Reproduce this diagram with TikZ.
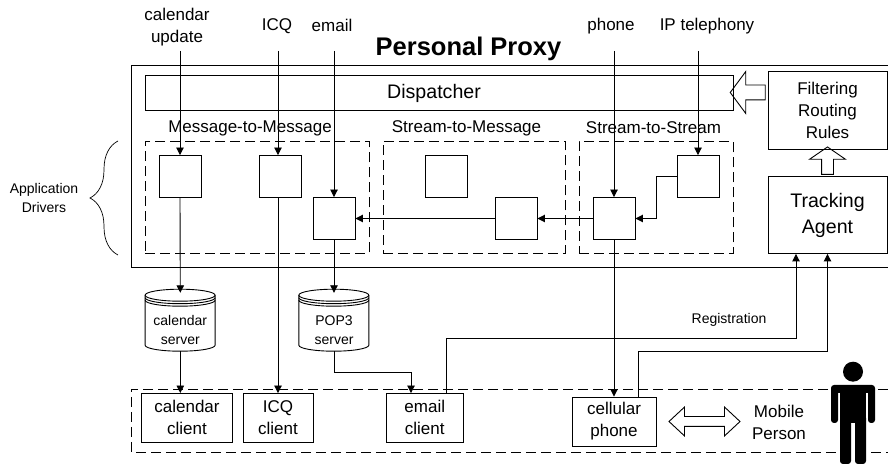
\documentclass[tikz,border=0pt]{standalone}
\usepackage{fontspec}
\setmainfont{Liberation Sans}
\usetikzlibrary{arrows.meta, shapes.arrows, decorations.pathreplacing}

\tikzset{
  drvbox/.style={draw, line width=.9pt, minimum width=42pt, minimum height=42pt, inner sep=0pt},
  groupbox/.style={draw, line width=.9pt, dash pattern=on 10pt off 5pt, inner sep=0pt},
  plainbox/.style={draw, line width=.9pt, inner sep=0pt, align=center},
  midtext/.style={font=\fontsize{17}{22}\selectfont, align=center},
  bigtext/.style={font=\fontsize{19.6}{26}\selectfont, align=center},
  smalltext/.style={font=\fontsize{14}{19}\selectfont, align=center},
  conn/.style={line width=.9pt, -{Triangle[width=7.5pt,length=7.5pt]}},
  fatarrow/.style={draw, line width=.9pt},
  barrel/.style={smalltext, minimum width=70pt, minimum height=42pt, inner sep=0pt},
  bodypart/.style={fill=black, rounded corners=3pt}
}

\newcommand{\drum}[1]{
  \draw [line width=.9pt] (#1.south west) ++(0,6) arc [start angle=180, end angle=360, x radius=35pt, y radius=6pt]
    -- ++(0,50) arc [start angle=0, end angle=180, x radius=35pt, y radius=6pt] -- cycle;
  \foreach \dy in {50,47.5,45}
    \draw [line width=.9pt] (#1.south west) ++(0,6+\dy) arc [start angle=180, end angle=360, x radius=35pt, y radius=6pt];
}

\begin{document}
\begin{tikzpicture}[x=1pt, y=1pt]
    \useasboundingbox (0,0) rectangle (888,465);

    \draw [line width=.9pt] (888,400) -- (131,400) -- (131,198) -- (888,198);
    \draw [line width=.9pt, dash pattern=on 10pt off 5pt] (888,76) -- (131,76) -- (131,13) -- (888,13);

    \node (title) [font=\fontsize{25.5}{30}\selectfont\bfseries] at (468.5,416.5) {Personal Proxy};
    \node (calin) [midtext] at (177,438) {calendar\\update};
    \node (icqin) [midtext] at (277,439) {ICQ};
    \node (mailin) [midtext] at (332,439.5) {email};
    \node (phonein) [midtext] at (611,439) {phone};
    \node (ipin) [midtext] at (707,439) {IP telephony};
    \coordinate (calstart) at (180,414);
    \coordinate (icqstart) at (278,414);
    \coordinate (mailstart) at (334,414);
    \coordinate (phonestart) at (614,414);
    \coordinate (ipstart) at (698,414);

    \node (dispatcher) [plainbox, minimum width=588pt, minimum height=34.5pt] at (439,372.25) {};
    \node (disptext) [bigtext] at (434,372) {Dispatcher};

    \node (mmgroup) [groupbox, minimum width=224pt, minimum height=112pt] at (257,267.5) {};
    \node (smgroup) [groupbox, minimum width=182pt, minimum height=112pt] at (474,267.5) {};
    \node (ssgroup) [groupbox, minimum width=154pt, minimum height=112pt] at (656,267.5) {};
    \node (mmtext) [midtext] at (250,337) {Message-to-Message};
    \node (smtext) [midtext] at (466.5,337) {Stream-to-Message};
    \node (sstext) [midtext] at (653.5,337) {Stream-to-Stream};

    \node (drvcal) [drvbox] at (180,288.5) {};
    \node (drvicq) [drvbox] at (280.5,288.5) {};
    \node (drvmail) [drvbox] at (334,246.5) {};
    \node (drvstream) [drvbox] at (446,288.5) {};
    \node (drvconv) [drvbox] at (516,246.5) {};
    \node (drvphone) [drvbox] at (614,246.5) {};
    \node (drvip) [drvbox] at (698,288.5) {};

    \node (filter) [plainbox, midtext, minimum width=119pt, minimum height=77.5pt] at (827.5,354.75) {Filtering\\Routing\\Rules};
    \node (tracking) [plainbox, bigtext, minimum width=119pt, minimum height=77pt] at (827.5,250) {Tracking\\Agent};

    \node (toleft) [fatarrow, single arrow, shape border rotate=180, inner sep=7pt, minimum height=35pt,
      single arrow head extend=13.5pt, single arrow tip angle=107] at (750.5,372.5) {};
    \node (toup) [fatarrow, single arrow, shape border rotate=90, inner sep=5.5pt, minimum height=27.5pt,
      single arrow head extend=12pt, single arrow tip angle=111] at (827.5,302.25) {};

    \node (calserver) [barrel] at (180.3,135) {calendar\\server};
    \node (popserver) [barrel] at (334,135) {POP3\\server};
    \drum{calserver}
    \drum{popserver}

    \node (calclient) [plainbox, midtext, minimum width=91pt, minimum height=48.5pt] at (187,47.25) {calendar\\client};
    \node (icqclient) [plainbox, midtext, minimum width=70pt, minimum height=48.5pt] at (278,47.25) {ICQ\\client};
    \node (mailclient) [plainbox, midtext, minimum width=76.5pt, minimum height=48.5pt] at (424.75,47.25) {email\\client};
    \node (cellphone) [plainbox, midtext, minimum width=84pt, minimum height=49pt] at (614,43.5) {cellular\\phone};
    \node (both) [fatarrow, double arrow, inner sep=4.5pt, minimum height=71pt,
      double arrow head extend=9.5pt, double arrow tip angle=86] at (704.5,43.5) {};
    \node (mobile) [midtext] at (779,43) {Mobile\\Person};

    \node (regtext) [smalltext] at (729,145) {Registration};
    \node (drivers) [smalltext] at (44,267) {Application\\Drivers};
    \draw [line width=.7pt, decorate, decoration={brace, amplitude=28pt}] (118,210) -- (118,324);

    \path [conn]
      (calstart) edge (drvcal.north)
      (icqstart) edge ([xshift=-2.5pt]drvicq.north)
      (mailstart) edge (drvmail.north)
      (phonestart) edge (drvphone.north)
      (ipstart) edge (drvip.north)
      (drvcal.south) edge ([yshift=16pt]calserver.north)
      (drvmail.south) edge ([yshift=16pt]popserver.north)
      ([xshift=-2.5pt]drvicq.south) edge (icqclient.north)
      (calserver.south) edge ([xshift=-6.7pt]calclient.north)
      (drvphone.south) edge (cellphone.north)
      (drvconv.west) edge (drvmail.east)
      (drvphone.west) edge (drvconv.east);

    \draw [conn] (drvip.west) -| ([xshift=42pt]drvphone.center) -- (drvphone.east);
    \draw [conn] (popserver.south) -- ++(0,-21.5) -| ([xshift=-13.75pt]mailclient.north);
    \draw [conn] ([xshift=21.25pt]mailclient.north) -- ++(0,55) -| ([xshift=-31.5pt]tracking.south);
    \draw [conn] ([xshift=24pt]cellphone.north) -- ++(0,45.5) -| (tracking.south);

    \fill (853,93.3) circle (10pt);
    \fill [bodypart] (831,72) rectangle (875,80);
    \fill [bodypart] (831,42) rectangle (838,78);
    \fill [bodypart] (868,42) rectangle (875,78);
    \fill (840,42) rectangle (866,80);
    \fill [bodypart] (840,1) rectangle (851,50);
    \fill [bodypart] (855,1) rectangle (866,50);
\end{tikzpicture}
\end{document}
